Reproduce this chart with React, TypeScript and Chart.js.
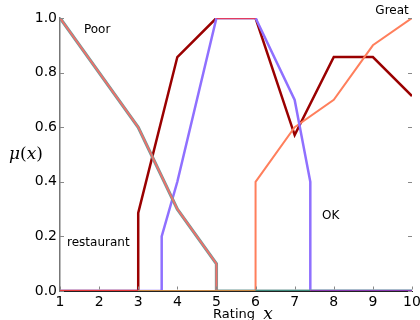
import React, { useEffect, useRef } from "react";
import { Chart, registerables } from "chart.js";

Chart.register(...registerables);

// Data
const poorX = [1, 3, 4, 5, 5, 10];
const poorY = [1, 0.6, 0.3, 0.1, 0, 0];

const avgX = [1, 3, 3, 4, 5, 6, 7, 8, 9, 10];
const avgY = [0, 0, 0.286, 0.857, 1, 1, 0.571, 0.857, 0.857, 0.714];

const okX = [1, 3.6, 3.6, 4, 5, 6, 7, 7.4, 7.4, 10];
const okY = [0, 0, 0.2, 0.4, 1, 1, 0.7, 0.4, 0, 0];

const greatX = [1, 6, 6, 7, 8, 9, 10];
const greatY = [0, 0, 0.4, 0.6, 0.7, 0.9, 1];

const topX = [5, 6];
const topY = [1, 1];

const baseX = [1, 3, 6, 7.4, 10];
const baseY = [0, 0, 0, 0, 0];
const baseColors = ["#e8383a", "#c98a45", "#3f8a7c", "#8a3ab0"];

const xTicks = [1, 2, 3, 4, 5, 6, 7, 8, 9, 10];
const yTicks = [0, 0.2, 0.4, 0.6, 0.8, 1.0];

const labels = [
  { text: "Poor", x: 1.95, y: 0.96 },
  { text: "restaurant", x: 1.18, y: 0.18, align: "left" },
  { text: "OK", x: 7.92, y: 0.28 },
  { text: "Great", x: 9.49, y: 1.03 },
];

const pts = (xs: number[], ys: number[]) => xs.map((x, i) => ({ x, y: ys[i] }));

const overlay = {
  id: "overlay",
  afterDraw(chart: any) {
    const { ctx, chartArea, scales } = chart;
    const xs = scales.x;
    const ys = scales.y;
    ctx.save();
    // tick marks inside
    ctx.strokeStyle = "#888";
    ctx.lineWidth = 1;
    yTicks.forEach((v) => {
      const py = Math.round(ys.getPixelForValue(v)) + 0.5;
      ctx.beginPath();
      ctx.moveTo(chartArea.left, py);
      ctx.lineTo(chartArea.left + 4, py);
      ctx.moveTo(chartArea.right, py);
      ctx.lineTo(chartArea.right - 4, py);
      ctx.stroke();
    });
    xTicks.forEach((v) => {
      const px = Math.round(xs.getPixelForValue(v)) + 0.5;
      ctx.beginPath();
      ctx.moveTo(px, chartArea.bottom - 1.5);
      ctx.lineTo(px, chartArea.bottom - 4.5);
      ctx.stroke();
    });
    // annotations
    ctx.fillStyle = "#000";
    ctx.font = "12px 'DejaVu Sans'";
    ctx.textBaseline = "middle";
    labels.forEach((l) => {
      ctx.textAlign = (l.align as CanvasTextAlign) || "center";
      ctx.fillText(l.text, xs.getPixelForValue(l.x), ys.getPixelForValue(l.y) + 1);
    });
    // axis titles
    const drawParts = (parts: { t: string; f: string }[], cx: number, cy: number) => {
      let w = 0;
      parts.forEach((p) => {
        ctx.font = p.f;
        w += ctx.measureText(p.t).width;
      });
      let x = cx - w / 2;
      ctx.textAlign = "left";
      parts.forEach((p) => {
        ctx.font = p.f;
        ctx.fillText(p.t, x, cy);
        x += ctx.measureText(p.t).width;
      });
    };
    const it = "italic 17px 'DejaVu Serif'";
    const up = "17px 'DejaVu Serif'";
    drawParts(
      [
        { t: "μ", f: it },
        { t: "(", f: up },
        { t: "x", f: it },
        { t: ")", f: up },
      ],
      26,
      155
    );
    drawParts(
      [
        { t: "Rating  ", f: "13px 'DejaVu Sans'" },
        { t: "x", f: "italic 17px 'DejaVu Serif'" },
      ],
      243,
      315
    );
    ctx.restore();
  },
};

export default function App() {
  const ref = useRef<HTMLCanvasElement>(null);
  useEffect(() => {
    if (!ref.current) return;
    const line = (data: any, color: string, width: number) => ({
      data,
      borderColor: color,
      backgroundColor: color,
      borderWidth: width,
      pointRadius: 0,
      fill: false,
      tension: 0,
    });
    const base: any = line(pts(baseX, baseY), baseColors[0], 2);
    base.segment = { borderColor: (c: any) => baseColors[c.p0DataIndex] };
    const chart = new Chart(ref.current, {
      type: "line",
      data: {
        datasets: [
          line(pts(topX, topY), "#ff2a2a", 1.5),
          base,
          line(pts(poorX, poorY), "#f0706a", 1.8),
          line(pts(poorX, poorY), "#6f9a98", 3.2),
          line(pts(okX, okY), "#8f70ff", 2.5),
          line(pts(greatX, greatY), "#ff7f5c", 2),
          line(pts(avgX, avgY), "#9a0000", 2.5),
        ],
      },
      options: {
        animation: false,
        responsive: false,
        parsing: false as any,
        layout: { padding: { top: 18, right: 8, left: 0, bottom: 0 } },
        plugins: { legend: { display: false }, tooltip: { enabled: false } },
        scales: {
          x: {
            type: "linear",
            min: 1,
            max: 10,
            grid: { display: false, drawTicks: false },
            border: { display: true, color: "#222", width: 1 },
            afterBuildTicks: (s: any) => {
              s.ticks = xTicks.map((v) => ({ value: v }));
            },
            ticks: {
              color: "#000",
              padding: 3,
              maxRotation: 0,
              font: { family: "DejaVu Sans", size: 14 },
              callback: (v: any) => String(v),
            },
            afterFit: (s: any) => {
              s.height = 29;
              s.paddingRight = 0;
              s.paddingLeft = 0;
            },
          },
          y: {
            type: "linear",
            min: 0,
            max: 1,
            grid: { display: false, drawTicks: false },
            border: { display: true, color: "#777", width: 1.5 },
            afterBuildTicks: (s: any) => {
              s.ticks = yTicks.map((v) => ({ value: v }));
            },
            ticks: {
              color: "#000",
              padding: 3,
              font: { family: "DejaVu Sans", size: 14 },
              callback: (v: any) => Number(v).toFixed(1),
            },
            afterFit: (s: any) => {
              s.width = 60;
              s.paddingTop = 0;
              s.paddingBottom = 0;
            },
          },
        },
      },
      plugins: [overlay],
    });
    return () => chart.destroy();
  }, []);
  return (
    <div style={{ position: "absolute", left: 0, top: 0, width: 420, height: 320, background: "#fff" }}>
      <canvas ref={ref} width={420} height={320} />
    </div>
  );
}
